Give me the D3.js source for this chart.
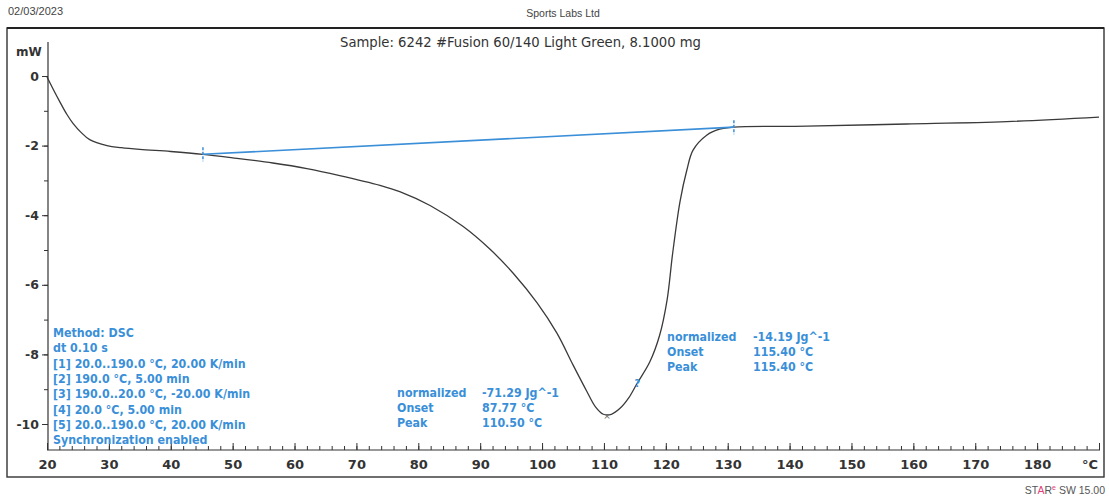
<!DOCTYPE html>
<html><head><meta charset="utf-8">
<script src="https://cdn.jsdelivr.net/npm/d3@7"></script>
<style>
body{margin:0;background:#fff;}
svg{display:block;}
</style></head>
<body><svg id="c" width="1109" height="500"></svg>
<script>
// ---- data ----
const temps = [20, 21, 22.1, 23.2, 24.2, 25.5, 26.9, 29.7, 32, 35, 40, 45.2, 50, 56.5, 62, 67.3, 73.8, 77, 81.9, 87.2, 91.6, 95.3, 99.2, 102.4, 105, 107.2, 108.6, 109.9, 111.2, 112.6, 114, 115.3, 117.4, 119, 120.2, 121.1, 122.3, 123.4, 124.4, 126.6, 128.7, 131, 142.8, 158.9, 175.1, 190];
const heatFlow = [-0.03, -0.38, -0.75, -1.1, -1.36, -1.62, -1.83, -2.0, -2.06, -2.11, -2.17, -2.25, -2.35, -2.50, -2.66, -2.86, -3.14, -3.32, -3.72, -4.32, -4.98, -5.66, -6.52, -7.39, -8.3, -9.05, -9.5, -9.72, -9.72, -9.55, -9.25, -8.85, -8.22, -7.45, -6.44, -5.1, -3.6, -2.70, -2.13, -1.70, -1.53, -1.47, -1.44, -1.38, -1.31, -1.18];
const baselineT = [45.2, 131.0];
const baselineV = [-2.25, -1.47];
const xTickLabels = [20, 30, 40, 50, 60, 70, 80, 90, 100, 110, 120, 130, 140, 150, 160, 170, 180];
const yTickLabels = [0, -2, -4, -6, -8, -10];
const methodLines = ["Method: DSC", "dt 0.10 s", "[1] 20.0..190.0 °C, 20.00 K/min", "[2] 190.0 °C, 5.00 min", "[3] 190.0..20.0 °C, -20.00 K/min", "[4] 20.0 °C, 5.00 min", "[5] 20.0..190.0 °C, 20.00 K/min", "Synchronization enabled"];
const peak1Labels = ["normalized", "Onset", "Peak"];
const peak1Values = ["-71.29 Jg^-1", "87.77 °C", "110.50 °C"];
const peak2Labels = ["normalized", "Onset", "Peak"];
const peak2Values = ["-14.19 Jg^-1", "115.40 °C", "115.40 °C"];

// ---- layout ----
const svg = d3.select("#c");
const blue = "#3a8fd8";
const x = d3.scaleLinear().domain([20, 190]).range([47, 1099]);
const y = d3.scaleLinear().domain([0, -10]).range([76, 424]);
const axisY0 = 450; // x-axis line y

// header
svg.append("text").attr("x", 8).attr("y", 15).attr("font-family", "Liberation Sans, Arial").attr("font-size", 11).attr("fill", "#444").text("02/03/2023");
svg.append("text").attr("x", 563).attr("y", 17).attr("text-anchor", "middle").attr("font-family", "Liberation Sans, Arial").attr("font-size", 10.5).attr("fill", "#444").text("Sports Labs Ltd");

// frame
svg.append("rect").attr("x", 7).attr("y", 28).attr("width", 1097).attr("height", 449).attr("fill", "none").attr("stroke", "#333").attr("stroke-width", 1.4);
svg.append("line").attr("x1", 7).attr("x2", 1104).attr("y1", 28).attr("y2", 28).attr("stroke", "#222").attr("stroke-width", 2);

// title
svg.append("text").attr("x", 340).attr("y", 47).attr("font-family", "DejaVu Sans, Verdana").attr("font-size", 13.5).attr("fill", "#333")
  .attr("textLength", 361).attr("lengthAdjust", "spacingAndGlyphs")
  .text("Sample: 6242  #Fusion 60/140 Light Green, 8.1000 mg");

// y axis
const yMinor = d3.range(-10, 1, 1);
svg.append("g").attr("transform", "translate(48,0)")
  .call(d3.axisLeft(y).tickValues(yMinor).tickSize(4).tickFormat(""))
  .call(g => g.select(".domain").remove())
  .call(g => g.selectAll("line").attr("stroke", "#333"));
svg.append("g").attr("transform", "translate(48,0)")
  .call(d3.axisLeft(y).tickValues(yTickLabels).tickSize(6).tickPadding(3).tickFormat(d => d))
  .call(g => g.select(".domain").remove())
  .call(g => g.selectAll("line").attr("stroke", "#333"))
  .call(g => g.selectAll("text").attr("font-family", "DejaVu Sans, Verdana").attr("font-size", 12.5).attr("font-weight", "bold").attr("fill", "#333"));
svg.append("line").attr("x1", 48).attr("x2", 48).attr("y1", 42).attr("y2", axisY0).attr("stroke", "#333").attr("stroke-width", 1.2);
svg.append("text").attr("x", 16).attr("y", 56).attr("font-family", "DejaVu Sans, Verdana").attr("font-size", 12).attr("font-weight", "bold").attr("fill", "#333").text("mW");

// x axis
const xMinor = d3.range(20, 191, 2);
svg.append("g").attr("transform", `translate(0,${axisY0})`)
  .call(d3.axisBottom(x).tickValues(xMinor).tickSizeInner(-4).tickSizeOuter(0).tickFormat(""))
  .call(g => g.select(".domain").remove())
  .call(g => g.selectAll("line").attr("stroke", "#333"));
svg.append("g").attr("transform", `translate(0,${axisY0})`)
  .call(d3.axisBottom(x).tickValues(d3.range(20, 191, 10)).tickSizeInner(-7).tickSizeOuter(0).tickPadding(10).tickFormat(d => xTickLabels.includes(d) ? d : ""))
  .call(g => g.select(".domain").remove())
  .call(g => g.selectAll("line").attr("stroke", "#333"))
  .call(g => g.selectAll("text").attr("font-family", "DejaVu Sans, Verdana").attr("font-size", 13).attr("font-weight", "bold").attr("fill", "#333"));
svg.append("line").attr("x1", 47).attr("x2", 1100).attr("y1", axisY0).attr("y2", axisY0).attr("stroke", "#333").attr("stroke-width", 1.2);
svg.append("text").attr("x", 1090).attr("y", axisY0 + 19).attr("text-anchor", "middle").attr("font-family", "DejaVu Sans, Verdana").attr("font-size", 13).attr("font-weight", "bold").attr("fill", "#333").text("°C");

// curve
const pts = temps.map((t, i) => [t, heatFlow[i]]);
svg.append("path").datum(pts)
  .attr("d", d3.line().x(d => x(d[0])).y(d => y(d[1])).curve(d3.curveCatmullRom.alpha(0.5)))
  .attr("fill", "none").attr("stroke", "#3a3a3a").attr("stroke-width", 1.3);

// baseline
const bpts = baselineT.map((t, i) => [t, baselineV[i]]);
svg.append("path").datum(bpts)
  .attr("d", d3.line().x(d => x(d[0])).y(d => y(d[1])))
  .attr("fill", "none").attr("stroke", blue).attr("stroke-width", 1.6);
svg.selectAll(".bm").data(bpts).enter().append("line")
  .attr("x1", d => x(d[0])).attr("x2", d => x(d[0]))
  .attr("y1", d => y(d[1]) - 7).attr("y2", d => y(d[1]) + 7)
  .attr("stroke", blue).attr("stroke-width", 1.5).attr("stroke-dasharray", "3,1.5");

// peak markers
svg.append("text").attr("x", x(110.5)).attr("y", y(-9.74) + 4).attr("text-anchor", "middle").attr("font-size", 9).attr("fill", "#666").attr("font-family", "DejaVu Sans").text("×");
svg.append("text").attr("x", x(115.4)).attr("y", y(-8.82) + 4).attr("text-anchor", "middle").attr("font-size", 10).attr("font-weight", "bold").attr("fill", blue).attr("font-family", "DejaVu Sans").text("?");

// annotation text
const annFont = "DejaVu Sans Condensed, DejaVu Sans";
const mg = svg.append("g").attr("font-family", annFont).attr("font-size", 12.3).attr("font-weight", "bold").attr("fill", blue).attr("font-stretch", "condensed");
mg.selectAll("text").data(methodLines).enter().append("text")
  .attr("x", 53).attr("y", (d, i) => 337 + i * 15.3).text(d => d);

function block(labels, values, x0, x1, y0) {
  const g = svg.append("g").attr("font-family", annFont).attr("font-size", 12.3).attr("font-weight", "bold").attr("fill", blue).attr("font-stretch", "condensed");
  g.selectAll(".l").data(labels).enter().append("text").attr("x", x0).attr("y", (d, i) => y0 + i * 15).text(d => d);
  g.selectAll(".v").data(values).enter().append("text").attr("x", x1).attr("y", (d, i) => y0 + i * 15).text(d => d);
}
block(peak1Labels, peak1Values, 397, 482, 397);
block(peak2Labels, peak2Values, 667, 753, 341);

// footer
const ft = svg.append("text").attr("x", 1105).attr("y", 494).attr("text-anchor", "end").attr("font-family", "Liberation Sans, Arial").attr("font-size", 10.5).attr("fill", "#555");
ft.append("tspan").text("ST");
ft.append("tspan").attr("fill", "#e0407a").text("A");
ft.append("tspan").text("R");
ft.append("tspan").attr("fill", "#e0407a").attr("font-size", 7).attr("dy", -4).text("e");
ft.append("tspan").attr("dy", 4).text(" SW 15.00");
</script>
</body></html>
